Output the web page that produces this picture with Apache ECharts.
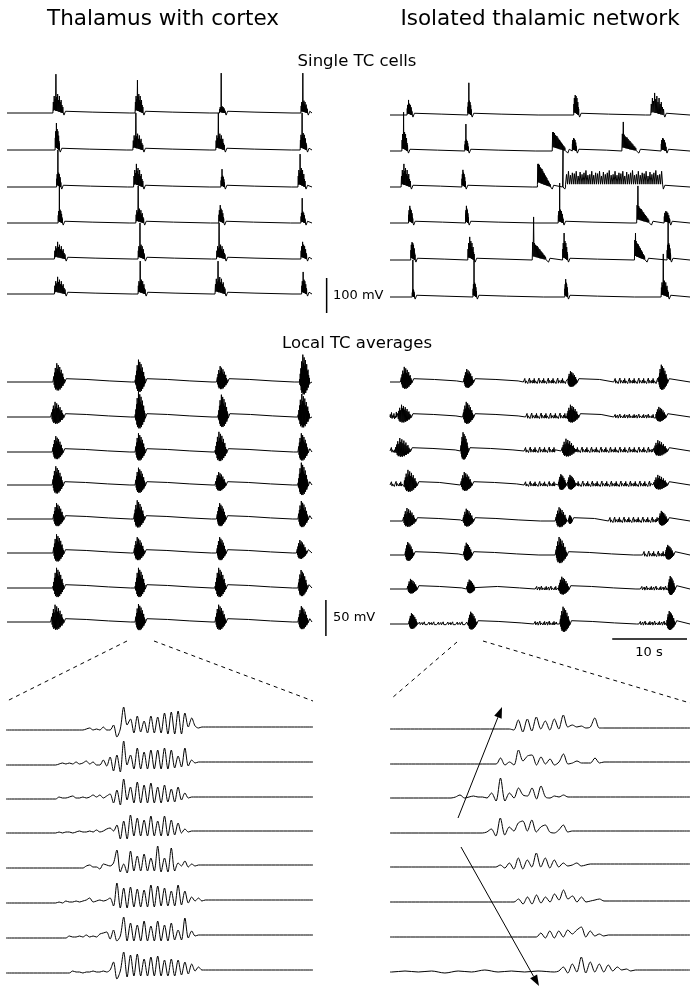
<!DOCTYPE html>
<html>
<head>
<meta charset="utf-8">
<title>Thalamus with cortex / Isolated thalamic network</title>
<script src="https://cdn.jsdelivr.net/npm/echarts@6/dist/echarts.min.js"></script>
<style>
  html, body { margin: 0; padding: 0; background: #fff; }
  #chart { width: 691px; height: 989px; }
</style>
</head>
<body>
<div id="chart"></div>
<script>
// ---------- data ----------
// single TC cells, one row per cell: [time s, kind, duration s, burst height mV, tallest spike mV]
// kind: 'b' burst, 'd' burst that decays, 't' tonic train
const singleLeft = [
  [[6.1, 'b', 1.4, 57, 111], [17.2, 'b', 1.1, 57, 94], [28.6, 'b', 0.8, 20, 114], [39.6, 'b', 0.9, 37, 114]],
  [[6.4, 'b', 0.6, 63, 77], [16.9, 'b', 1.4, 49, 106], [28.1, 'b', 1.2, 49, 106], [39.5, 'b', 0.9, 51, 106]],
  [[6.6, 'b', 0.6, 43, 106], [17.0, 'b', 1.3, 57, 66], [28.8, 'b', 0.5, 34, 51], [39.2, 'b', 1.0, 57, 94]],
  [[6.8, 'b', 0.6, 40, 106], [17.3, 'b', 1.1, 43, 106], [28.5, 'b', 0.7, 43, 51], [39.6, 'b', 0.6, 34, 71]],
  [[6.3, 'b', 1.5, 43, 49], [17.6, 'b', 0.9, 43, 103], [28.2, 'b', 1.2, 43, 103], [39.6, 'b', 0.8, 43, 49]],
  [[6.3, 'b', 1.5, 43, 49], [17.6, 'b', 1.0, 43, 94], [28.0, 'b', 1.4, 51, 94], [39.7, 'b', 0.7, 43, 63]]
];
const singleRight = [
  [[2.0, 'b', 0.7, 34, 43], [10.2, 'b', 0.5, 43, 92], [24.5, 'b', 0.7, 57, 57], [34.9, 'b', 1.8, 57, 63]],
  [[1.3, 'b', 0.8, 57, 111], [9.8, 'b', 0.5, 34, 77], [21.6, 'd', 2.0, 54, 54], [24.3, 'b', 0.6, 37, 37], [31.0, 'd', 2.2, 49, 83], [36.3, 'b', 0.7, 37, 37]],
  [[1.2, 'b', 1.3, 57, 66], [9.4, 'b', 0.5, 43, 49], [19.6, 'd', 1.9, 66, 66], [23.0, 'b', 0.2, 0, 106], [23.4, 't', 13.1, 45, 51]],
  [[2.2, 'b', 0.6, 43, 49], [9.9, 'b', 0.4, 43, 49], [22.4, 'b', 0.7, 40, 114], [33.0, 'd', 1.9, 51, 106], [36.7, 'b', 0.8, 34, 34]],
  [[2.5, 'b', 0.6, 51, 51], [10.2, 'b', 0.9, 57, 66], [18.9, 'd', 2.1, 51, 123], [23.0, 'b', 0.7, 57, 77], [32.7, 'd', 1.6, 57, 77], [37.1, 'b', 0.5, 51, 106]],
  [[2.7, 'b', 0.3, 23, 106], [10.9, 'b', 0.5, 43, 106], [23.3, 'b', 0.4, 43, 51], [36.3, 'b', 1.0, 49, 123]]
];

// local TC averages: [time s, kind, duration s, amplitude mV]; kind 'b' burst, 'n' low activity
const avgLeft = [
  [[6.1, 'b', 1.6, 26], [17.2, 'b', 1.4, 31], [28.2, 'b', 1.5, 22], [39.4, 'b', 1.4, 38]],
  [[5.8, 'b', 1.8, 21], [17.2, 'b', 1.4, 35], [28.4, 'b', 1.4, 31], [39.2, 'b', 1.6, 32]],
  [[6.0, 'b', 1.5, 22], [17.2, 'b', 1.4, 26], [28.0, 'b', 1.6, 28], [39.2, 'b', 1.4, 26]],
  [[6.0, 'b', 1.5, 26], [17.2, 'b', 1.4, 24], [28.0, 'b', 1.5, 18], [39.2, 'b', 1.4, 31]],
  [[6.1, 'b', 1.5, 22], [17.0, 'b', 1.5, 26], [28.2, 'b', 1.3, 22], [39.2, 'b', 1.4, 25]],
  [[6.1, 'b', 1.5, 26], [17.0, 'b', 1.5, 22], [28.2, 'b', 1.3, 22], [39.0, 'b', 1.4, 18]],
  [[6.1, 'b', 1.5, 28], [17.2, 'b', 1.4, 28], [28.0, 'b', 1.5, 28], [39.2, 'b', 1.3, 25]],
  [[5.8, 'b', 1.8, 24], [17.2, 'b', 1.4, 25], [28.0, 'b', 1.5, 24], [39.2, 'b', 1.4, 22]]
];
const avgRight = [
  [[1.1, 'b', 1.6, 21], [9.6, 'b', 1.4, 18], [17.7, 'n', 5.8, 5.5], [23.6, 'b', 1.4, 15], [29.9, 'n', 6.0, 5.5], [35.9, 'b', 1.3, 24]],
  [[-0.3, 'n', 0.9, 7], [0.6, 'b', 2.0, 17], [9.5, 'b', 1.5, 21], [18.0, 'n', 5.5, 5.5], [23.5, 'b', 1.7, 17], [29.9, 'n', 5.6, 4], [35.5, 'b', 1.5, 14]],
  [[-0.3, 'n', 0.6, 5.5], [0.3, 'b', 2.2, 18], [9.2, 'b', 1.1, 26], [17.8, 'n', 4.4, 5.5], [22.8, 'b', 2.0, 17], [24.8, 'n', 10.4, 5.5], [35.2, 'b', 2.0, 15]],
  [[-0.3, 'n', 1.8, 5], [1.5, 'b', 1.9, 21], [9.2, 'b', 1.6, 18], [17.8, 'n', 4.4, 5], [22.4, 'b', 1.1, 15], [23.6, 'b', 1.2, 14], [24.9, 'n', 10.2, 5.5], [35.2, 'b', 2.0, 14]],
  [[1.4, 'b', 1.8, 18], [9.5, 'b', 1.5, 17], [22.0, 'b', 1.6, 19], [23.8, 'b', 0.5, 8], [29.2, 'n', 6.6, 5.5], [35.9, 'b', 1.3, 14]],
  [[1.7, 'b', 1.2, 18], [9.6, 'b', 1.2, 17], [22.0, 'b', 1.6, 25], [33.8, 'n', 2.9, 5.5], [36.8, 'b', 1.2, 14]],
  [[2.0, 'b', 1.4, 14], [10.0, 'b', 1.2, 13], [19.3, 'n', 2.9, 4], [22.4, 'b', 1.5, 17], [33.5, 'n', 3.6, 4], [37.2, 'b', 1.0, 18]],
  [[2.2, 'b', 1.2, 15], [3.5, 'n', 6.6, 3], [10.2, 'b', 1.2, 17], [19.1, 'n', 3.1, 4], [22.6, 'b', 1.4, 24], [33.3, 'n', 3.7, 4], [37.0, 'b', 1.2, 18]]
];

// shapes of a burst (fractions of the burst height)
const burstSpikes = [0.55, 0.85, 0.7, 1.0, 0.8, 0.95, 0.65, 0.85, 0.55, 0.65, 0.4, 0.3];
const burstFloor = [0.05, 0.12, 0.15, 0.12, 0.1, 0.1, 0.08, 0.06, 0.05, 0.03, 0.02, 0];
const decaySpikes = [1.0, 0.9, 0.95, 0.85, 0.8, 0.78, 0.7, 0.62, 0.58, 0.5, 0.44, 0.38, 0.3, 0.25, 0.18, 0.12, 0.08];
const decayFloor = [0.1, 0.2, 0.2, 0.18, 0.16, 0.15, 0.14, 0.12, 0.1, 0.09, 0.08, 0.07, 0.05, 0.04, 0.03, 0.02, 0];
const tonicSpikes = [0.8, 1.0, 0.75, 0.9, 0.85, 1.0, 0.7, 0.95, 0.8, 0.9, 1.05, 0.75];
const tonicFloor = 0.18;
const tonicStep = 0.26;   // s between spikes of the tonic train
const singleWave = [[0.3, 5], [4, 2.5], [9, 0]];   // [s after burst, mV]
const avgBurst = [0.1, -0.1, 0.3, -0.15, 0.5, -0.3, 0.75, -0.4, 0.55, -0.35, 1.0, -0.45, 0.7, -0.4, 0.9, -0.45, 0.6, -0.35, 0.8, -0.4, 0.5, -0.3, 0.65, -0.3, 0.4, -0.2, 0.45, -0.2, 0.25, -0.1, 0.15, -0.05];
const avgNoise = [0.5, -0.2, 0.9, -0.3, 0.3, -0.1, 0.7, -0.4, 0.2, -0.2, 1.0, -0.3, 0.4, -0.1, 0.6, -0.3];
const noiseStep = 0.08;
const avgWave = [[0.2, 4.6], [3, 3.5], [6, 1.5], [9, 0]];

// zoomed spindles: segments [onset ms, step ms, values mV]
const zoomLeft = [
  [[497, 34, [0,0,0,0,0,0,0,0,0,1,2,0,1,0,3,0,0,5,-7,1,23,5,11,-3,14,-2,9,-3,14,-3,13,-3,17,-4,18,-4,19,-4,17,3,12,4,2,3,3]]],
  [[497, 34, [0,1,2,1,2,1,3,1,2,4,1,3,0,0,5,-1,8,-6,10,-7,24,0,10,-4,17,-4,13,-4,15,-4,15,-4,17,-4,15,-3,9,-2,17,-1,5,2,3,3,3]]],
  [[497, 34, [0,2,1,1,2,3,1,1,2,1,2,4,2,4,1,3,5,-4,9,-6,20,-1,12,-4,17,-4,14,-4,16,-4,12,-4,14,-3,10,-3,12,-1,6,1,2,2,2,2,2]]],
  [[497, 34, [0,1,0,1,1,0,1,2,1,1,2,1,3,1,2,4,5,2,8,-6,12,-6,18,-3,15,-3,13,-3,17,-3,12,-3,17,-3,13,-2,10,0,4,1,2,2,2,2,2]]],
  [[497, 34, [0,0,0,0,0,0,0,0,0,2,3,1,1,-1,4,3,2,5,18,-4,4,-5,17,-3,12,-3,14,-3,10,-3,22,-4,10,-4,20,-3,5,2,7,1,4,2,3,3,3]]],
  [[497, 34, [0,1,0,2,1,1,2,1,2,3,5,1,2,3,2,3,5,-3,20,-5,15,-5,16,-4,14,-4,13,-4,18,-4,17,-3,15,-3,12,-3,18,-2,12,0,6,2,5,2,3]]],
  [[497, 34, [0,0,0,0,2,1,1,2,1,3,1,2,1,4,5,6,-1,8,-3,2,21,-3,15,-3,13,-3,17,-3,12,-3,17,-3,13,-3,15,-2,8,-2,20,0,7,2,3,3,3]]],
  [[497, 34, [0,0,0,0,0,2,1,1,0,1,1,2,1,1,2,1,3,11,-6,2,21,-4,18,-3,19,-3,14,-3,16,-3,17,-3,13,-3,14,-3,13,-2,11,-1,9,2,6,3,3]]]
];
const zoomRight = [
  [[1193, 45, [0,-1,9,-3,10,-2,12,0,8,-1,10,0,14,2,4,2,3,1,2,11,1,1]]],
  [[1060, 45, [0,6,-1,2,-1,14,3,8,9,-1,7,0,5,-1,2,10,0,1,3,1,1,1,6,1,2]]],
  [[610, 45, [0,1,3,0,1,2,1,1,0,5,-3,20,-3,5,0,10,3,2,10,-1,12,1,0,2,1,3,1,1]]],
  [[923, 45, [0,1,4,-3,15,-2,6,2,10,12,2,13,1,6,8,1,0,3,8,1,2]]],
  [[1058, 45, [0,2,-1,4,-2,9,-2,7,0,14,0,9,-1,7,0,4,1,2,4,1,2,3]]],
  [[1240, 45, [0,3,-2,5,-2,7,-1,5,0,8,2,12,3,6,0,5,0,1,2,3,1]]],
  [[1463, 45, [0,4,-1,6,-1,6,0,7,3,7,10,0,6,1,3,1,2]]],
  [[17, 133, [0,1,0,1,-1,1,0,2,0,1,0,1]], [1643, 45, [0,1,5,-1,8,0,15,-1,10,0,8,0,7,1,5,2,3,1,2,2]]]
];

// scale bars
const bar100mV = [[43.1, -54], [43.1, 46]];
const bar50mV = [[43.0, -19.5], [43.0, 30.5]];
const bar10s = [[29.7, -21], [39.8, -21]];

// ---------- layout ----------
const boxL = { left: 7, width: 305, min: -0.1, max: 41.1 };
const boxR = { left: 390, width: 300, min: -0.3, max: 40.2 };
const boxBar = { left: 7, width: 326.3, min: -0.1, max: 44 };   // same time scale as boxL, wider
const zoomBoxL = { left: 6, width: 307, min: 0, max: 3070 };
const zoomBoxR = { left: 390, width: 300, min: 0, max: 3000 };
const singleBaseL = [113, 150, 187, 223, 259, 294];
const singleBaseR = [115, 151, 187, 223, 260, 297];
const avgBaseL = [382, 417, 452, 485, 519, 553, 588, 622];
const avgBaseR = [382, 417, 451, 485, 521, 555, 589, 624];
const zoomBaseL = [730, 765, 799, 833, 868, 903, 938, 973];
const zoomBaseR = [729, 764, 798, 833, 867, 902, 937, 972];

// ---------- build traces ----------
function buildSingle(bursts, xmin, xmax) {
  const pts = [[xmin, 0]];
  bursts.forEach((b, i) => {
    const [t, kind, dur, h, tall] = b;
    const next = i + 1 < bursts.length ? bursts[i + 1][0] : xmax;
    let n, spikeAt, floorAt, tallAt;
    if (kind === 't') {
      n = Math.round(dur / tonicStep);
      spikeAt = j => tonicSpikes[j % tonicSpikes.length];
      floorAt = () => tonicFloor;
      tallAt = -1;
    } else {
      const sp = kind === 'd' ? decaySpikes : burstSpikes;
      const fl = kind === 'd' ? decayFloor : burstFloor;
      n = sp.length;
      spikeAt = j => sp[j];
      floorAt = j => fl[j];
      tallAt = kind === 'd' ? 1 : 3;
    }
    const dt = dur / n;
    pts.push([t, 0]);
    for (let j = 0; j < n; j++) {
      pts.push([t + j * dt, floorAt(j) * h]);
      pts.push([t + (j + 0.5) * dt, j === tallAt ? tall : spikeAt(j) * h]);
    }
    const end = t + dur;
    pts.push([end, floorAt(n - 1) * h]);
    pts.push([end + 0.1, -6]);
    singleWave.forEach(([d, v]) => {
      if (end + d < next - 0.2) pts.push([end + d, v]);
    });
  });
  pts.push([xmax, 0]);
  return pts;
}

function buildAvg(events, xmin, xmax) {
  const pts = [[xmin, 0]];
  events.forEach((e, i) => {
    const [t, kind, dur, amp] = e;
    const next = i + 1 < events.length ? events[i + 1][0] : xmax;
    const tpl = kind === 'n' ? avgNoise : avgBurst;
    const n = kind === 'n' ? Math.max(2, Math.round(dur / noiseStep)) : tpl.length;
    const dt = dur / n;
    pts.push([t, 0]);
    for (let j = 0; j < n; j++) pts.push([t + (j + 0.5) * dt, tpl[j % tpl.length] * amp]);
    pts.push([t + dur, 0]);
    if (kind === 'b') {
      avgWave.forEach(([d, v]) => {
        if (t + dur + d < next - 0.2) pts.push([t + dur + d, v]);
      });
    }
  });
  pts.push([xmax, 0]);
  return pts;
}

function buildZoom(segs, xmax) {
  const pts = [[0, 0]];
  let last = 0;
  segs.forEach(([on, step, vals]) => {
    vals.forEach((v, j) => pts.push([on + j * step, v]));
    last = vals[vals.length - 1];
  });
  pts.push([xmax, last]);
  return pts;
}

const grid = [], xAxis = [], yAxis = [], series = [];
function addTrace(box, base, pxPerUnit, yMin, yMax, data, smooth, width) {
  const i = grid.length;
  grid.push({ left: box.left, width: box.width, top: base - yMax * pxPerUnit, height: (yMax - yMin) * pxPerUnit });
  xAxis.push({ type: 'value', gridIndex: i, min: box.min, max: box.max, show: false });
  yAxis.push({ type: 'value', gridIndex: i, min: yMin, max: yMax, show: false });
  series.push({
    type: 'line', xAxisIndex: i, yAxisIndex: i, data: data,
    symbol: 'none', clip: false, smooth: smooth || false, silent: true,
    lineStyle: { color: '#000', width: width || 1 }
  });
  return i;
}

// 100 mV = 35 px, 50 mV = 36 px, 10 s = 74 px
const pxSingle = 0.35, pxAvg = 0.72, pxZoom = 1;
singleLeft.forEach((b, k) => addTrace(boxL, singleBaseL[k], pxSingle, -20, 100, buildSingle(b, boxL.min, boxL.max)));
addTrace(boxBar, singleBaseL[5], pxSingle, -60, 50, bar100mV, false, 1.5);
singleRight.forEach((b, k) => addTrace(boxR, singleBaseR[k], pxSingle, -20, 100, buildSingle(b, boxR.min, boxR.max)));
avgLeft.forEach((e, k) => addTrace(boxL, avgBaseL[k], pxAvg, -20, 30, buildAvg(e, boxL.min, boxL.max)));
addTrace(boxBar, avgBaseL[7], pxAvg, -25, 35, bar50mV, false, 1.5);
avgRight.forEach((e, k) => addTrace(boxR, avgBaseR[k], pxAvg, -20, 30, buildAvg(e, boxR.min, boxR.max)));
addTrace(boxR, avgBaseR[7], pxAvg, -25, 30, bar10s, false, 1.5);
zoomLeft.forEach((s, k) => addTrace(zoomBoxL, zoomBaseL[k], pxZoom, -10, 25, buildZoom(s, zoomBoxL.max), 0.3));
zoomRight.forEach((s, k) => addTrace(zoomBoxR, zoomBaseR[k], pxZoom, -10, 25, buildZoom(s, zoomBoxR.max), 0.3));

// ---------- text, dashed guides, arrows ----------
const FONT = '"DejaVu Sans", sans-serif';
function label(text, x, y, size, align) {
  return {
    type: 'text', x: x, y: y, silent: true,
    style: { text: text, font: size + 'px ' + FONT, fill: '#000', align: align || 'center', verticalAlign: 'middle', textAlign: align || 'center', textVerticalAlign: 'middle' }
  };
}
function dashed(x1, y1, x2, y2) {
  return { type: 'line', silent: true, shape: { x1: x1, y1: y1, x2: x2, y2: y2 }, style: { stroke: '#000', lineWidth: 1, lineDash: [4, 4] } };
}
function arrow(x1, y1, x2, y2) {
  const a = Math.atan2(y2 - y1, x2 - x1), L = 11, W = 4;
  const bx = x2 - L * Math.cos(a), by = y2 - L * Math.sin(a);
  const px = -Math.sin(a) * W, py = Math.cos(a) * W;
  return [
    { type: 'line', silent: true, shape: { x1: x1, y1: y1, x2: bx, y2: by }, style: { stroke: '#000', lineWidth: 1 } },
    { type: 'polygon', silent: true, shape: { points: [[x2, y2], [bx + px, by + py], [bx - px, by - py]] }, style: { fill: '#000' } }
  ];
}

const graphic = [
  label('Thalamus with cortex', 163, 19, 21.5),
  label('Isolated thalamic network', 540, 19, 21.5),
  label('Single TC cells', 357, 62, 16.5),
  label('Local TC averages', 357, 344, 16.5),
  label('100 mV', 333, 296, 13, 'left'),
  label('50 mV', 333, 618, 13, 'left'),
  label('10 s', 649, 653, 13),
  dashed(127, 641, 7, 701),
  dashed(154, 641, 313, 701),
  dashed(457, 642, 392, 698),
  dashed(483, 641, 690, 703)
].concat(arrow(458, 818, 502, 707), arrow(461, 847, 539, 986));

const chart = echarts.init(document.getElementById('chart'));
chart.setOption({
  animation: false,
  backgroundColor: '#fff',
  grid: grid,
  xAxis: xAxis,
  yAxis: yAxis,
  series: series,
  graphic: graphic
});
</script>
</body>
</html>
